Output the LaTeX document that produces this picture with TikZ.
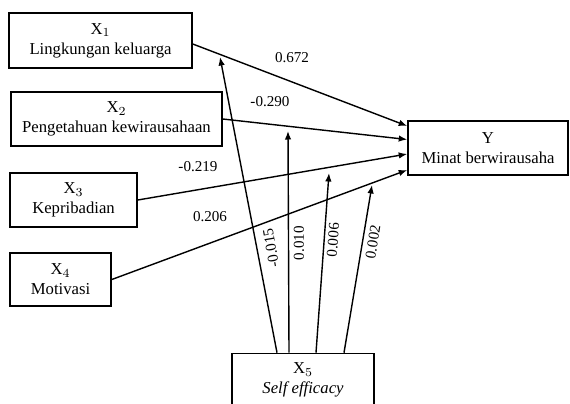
\documentclass[tikz,border=0pt]{standalone}
\usepackage{fontspec}
\setmainfont{Liberation Serif}
\usepackage{tikz}
\usetikzlibrary{arrows.meta,positioning,calc}

\begin{document}
\begin{tikzpicture}[x=0.02cm, y=-0.02cm,
    varbox/.style={rectangle, draw, line width=0.9pt, align=center, inner sep=0pt, font=\fontsize{9.5}{11.5}\selectfont},
    path/.style={line width=0.8pt, -{Latex[length=1.7mm,width=1.3mm]}},
    coef/.style={font=\fontsize{8.6}{10}\selectfont}]
    \useasboundingbox (0,0) rectangle (570,403);
    % Variables
    \node[varbox, minimum width=3.66cm, minimum height=1.1cm] (x1) at (100.5,40.5) {X$_1$\\Lingkungan keluarga};
    \node[varbox, minimum width=4.22cm, minimum height=1.08cm] (x2) at (116.5,119) {X$_2$\\Pengetahuan kewirausahaan};
    \node[varbox, minimum width=2.54cm, minimum height=1.08cm] (x3) at (73.5,200) {X$_3$\\Kepribadian};
    \node[varbox, minimum width=2.02cm, minimum height=1.06cm] (x4) at (60.5,279.5) {X$_4$\\Motivasi};
    \node[varbox, minimum width=3.2cm, minimum height=1.08cm] (y) at (488,148) {Y\\Minat berwirausaha};
    \node[varbox, minimum width=2.84cm, minimum height=1.06cm] (x5) at (303,380) {X$_5$\\\textit{Self efficacy}};

    % Direct paths
    \draw[path] ([yshift=-0.07cm]x1.east) -- ([yshift=0.44cm]y.west);
    \draw[path] (x2.east) -- ([yshift=0.17cm]y.west);
    \draw[path] (x3.east) -- ([yshift=-0.12cm]y.west);
    \draw[path] (x4.east) -- ([yshift=-0.44cm]y.west);

    % Moderation by X5
    \coordinate (m1) at (220,57);
    \coordinate (m2) at (288,131);
    \coordinate (m3) at (329,173);
    \coordinate (m4) at (372,185);
    \draw[path] ([xshift=-0.52cm]x5.north) -- (m1);
    \draw[path] ([xshift=-0.28cm]x5.north) -- (m2);
    \draw[path] ([xshift=0.26cm]x5.north) -- (m3);
    \draw[path] ([xshift=0.82cm]x5.north) -- (m4);

    % Coefficients
    \node[coef] (c1) at (292,58) {0.672};
    \node[coef] (c2) at (270,102) {-0.290};
    \node[coef] (c3) at (198,167) {-0.219};
    \node[coef] (c4) at (210,217) {0.206};
    \node[coef, rotate=100] (c5) at (271,248) {-0.015};
    \node[coef, rotate=90] (c6) at (299,243) {0.010};
    \node[coef, rotate=86] (c7) at (333,240) {0.006};
    \node[coef, rotate=81] (c8) at (373,242) {0.002};
\end{tikzpicture}
\end{document}
